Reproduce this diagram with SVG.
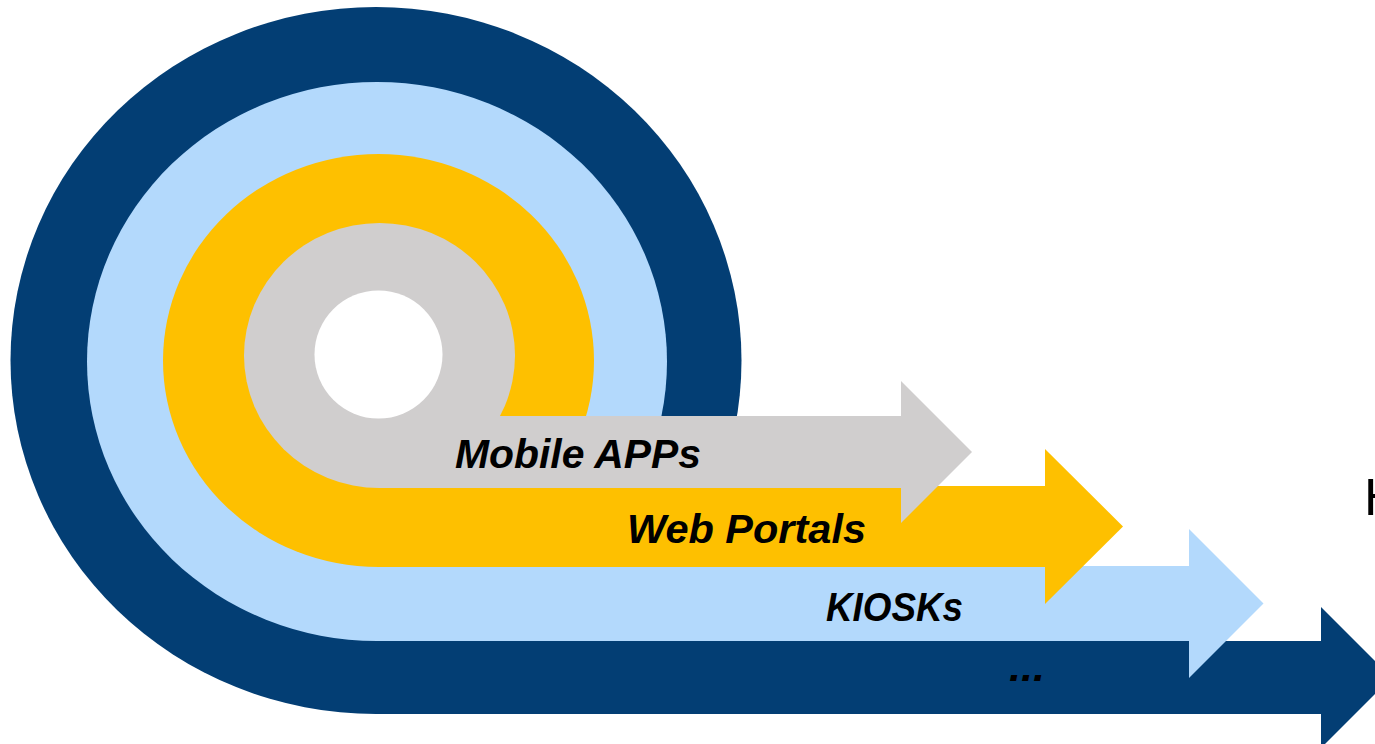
<svg xmlns="http://www.w3.org/2000/svg" width="1375" height="744" viewBox="0 0 1375 744">
<style>
.navy{fill:#033E74}
.sky{fill:#B3D9FC}
.gold{fill:#FEC000}
.gray{fill:#D0CECE}
.hole{fill:#FFFFFF}
.lbl{font-family:"Liberation Sans",Arial,sans-serif;font-weight:bold;font-style:italic;font-size:40px;fill:#000000}
.side{font-family:"Liberation Sans",Arial,sans-serif;font-weight:normal;font-size:52px;fill:#000000}
</style>
<rect width="1375" height="744" fill="#FFFFFF"/>
<g id="arrow-more">
<ellipse class="navy" cx="376" cy="360.5" rx="365.5" ry="353.5"/>
<rect class="navy" x="376" y="641" width="945" height="73"/>
<polygon class="navy" points="1321,607 1391.5,677.5 1321,748"/>
<text class="lbl" x="1009" y="681" textLength="36" lengthAdjust="spacingAndGlyphs">...</text>
</g>
<g id="arrow-kiosks">
<ellipse class="sky" cx="377" cy="361.5" rx="290" ry="279.5"/>
<rect class="sky" x="377" y="566" width="812" height="75"/>
<polygon class="sky" points="1189,529 1263.5,603.5 1189,678"/>
<text class="lbl" x="826" y="621" textLength="137" lengthAdjust="spacingAndGlyphs">KIOSKs</text>
</g>
<g id="arrow-web">
<ellipse class="gold" cx="378.5" cy="360.5" rx="215.5" ry="206.5"/>
<rect class="gold" x="378" y="486" width="667" height="81"/>
<polygon class="gold" points="1045,449 1123,526.5 1045,604"/>
</g>
<g id="arrow-mobile">
<ellipse class="gray" cx="379.5" cy="355.5" rx="135.5" ry="132.5"/>
<rect class="gray" x="379" y="416" width="522" height="72"/>
<polygon class="gray" points="901,381 972,452 901,523"/>
<circle class="hole" cx="378.5" cy="354.5" r="64"/>
</g>
<g id="labels">
<text class="lbl" x="455" y="468" textLength="246" lengthAdjust="spacingAndGlyphs">Mobile APPs</text>
<text class="lbl" x="627" y="543" textLength="239" lengthAdjust="spacingAndGlyphs">Web Portals</text>
</g>
<g id="side-text">
<text class="side" x="1364" y="515">H</text>
</g>
</svg>
